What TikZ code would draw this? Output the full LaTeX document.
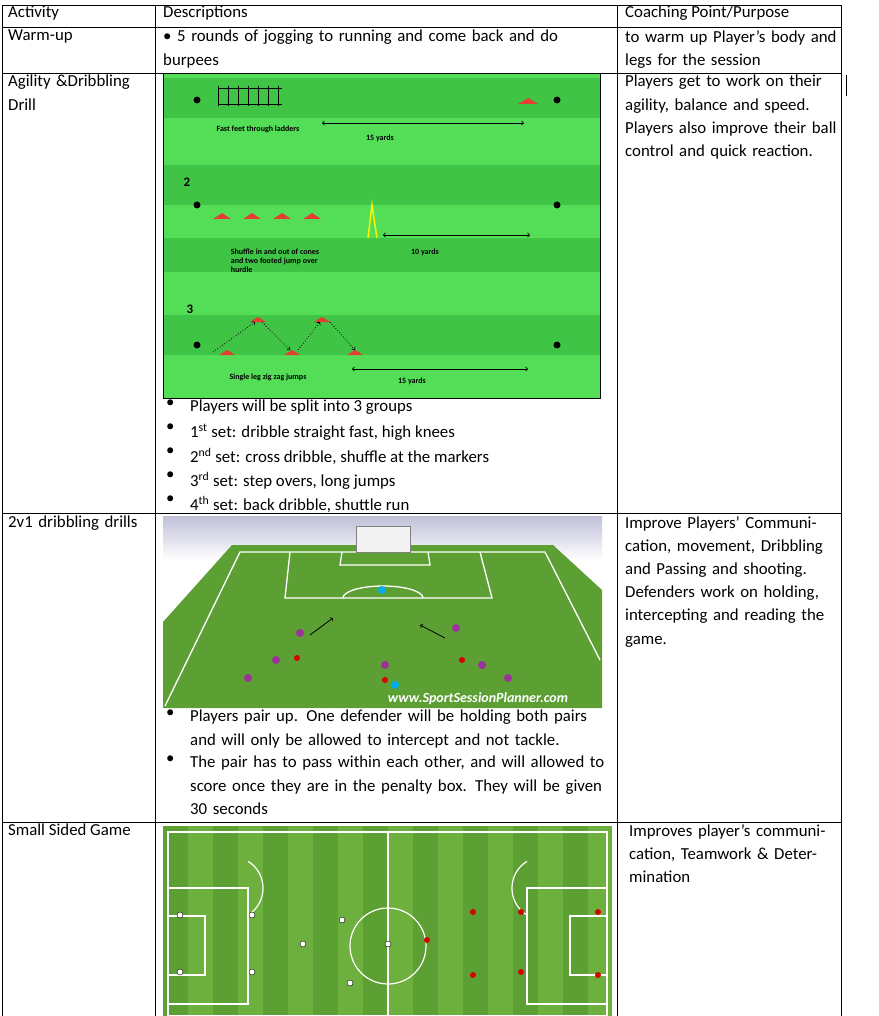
\documentclass[tikz,border=0pt]{standalone}
\usepackage{fontspec}
\setmainfont{Carlito}
\usetikzlibrary{positioning}
\definecolor{drillgreen}{RGB}{84,222,88}
\definecolor{bandgreen}{RGB}{64,196,70}
\definecolor{pitchA}{RGB}{92,160,52}
\definecolor{pitchB}{RGB}{110,176,62}
\definecolor{conered}{RGB}{230,60,50}
\tikzset{
  cell/.style={anchor=north west, inner sep=0pt, align=left, font=\fontsize{16.8}{23.2}\selectfont},
  small/.style={font=\bfseries\fontsize{8}{9}\selectfont, align=left},
  blob/.style={circle, fill=black, inner sep=0pt, minimum size=7pt},
  mate/.style={circle, fill=violet!80, inner sep=0pt, minimum size=8pt},
  foe/.style={circle, fill=red!85!black, inner sep=0pt, minimum size=6pt},
  pale/.style={circle, fill=white, draw=black, inner sep=0pt, minimum size=6pt},
  bul/.style={cell, text width=415pt}
}
\begin{document}
\begin{tikzpicture}[x=1pt,y=-1pt]
\useasboundingbox (0,0) rectangle (878,1016);
\fill[white] (0,0) rectangle (878,1016);
% pictures
\fill[drillgreen] (163,73) rectangle (600,398);
\foreach \y in {78,165,315} \fill[bandgreen] (163,\y) rectangle (600,\y+40);
\fill[bandgreen] (163,238) rectangle (600,272);
\draw[black, line width=0.6pt] (163,73) rectangle (600,398);
\foreach \x in {218,228,...,278} \draw (\x,86) -- (\x,106);
\draw (218,88) -- (282,88) (218,104) -- (282,104);
\foreach \y in {110,215,355} {\node[blob] at (197,\y-10) {}; \node[blob] at (557,\y-10) {};}
\foreach \x in {222,252,282,312} \fill[conered] (\x-9,219) -- (\x,213) -- (\x+9,219) -- cycle;
\fill[conered] (518,104) -- (528,98) -- (538,104) -- cycle;
\draw[yellow, line width=1.5pt] (368,238) -- (372,205) -- (377,238);
\node[small] (ladtxt) at (258,129) {Fast feet through ladders};
\node[small] (yd1) at (380,138) {15 yards};
\coordinate (a1) at (322,123); \coordinate (b1) at (524,123);
\draw[<->, thick] (a1) -- (b1);
\node[font=\bfseries\fontsize{13}{14}\selectfont] (two) at (187,182) {2};
\node[small] (shuftxt) at (275,261) {Shuffle in and out of cones\\and two footed jump over\\hurdle};
\node[small] (yd2) at (425,252) {10 yards};
\coordinate (a2) at (383,235); \coordinate (b2) at (530,235);
\draw[<->, thick] (a2) -- (b2);
\node[font=\bfseries\fontsize{13}{14}\selectfont] (three) at (190,309) {3};
\foreach \x/\y in {227/355,258/322,292/355,322/322,355/355} \fill[conered] (\x-8,\y) -- (\x,\y-5) -- (\x+8,\y) -- cycle;
\draw[dotted, thick, ->] (213,352) -- (255,322);
\draw[dotted, thick, ->] (262,322) -- (290,350);
\draw[dotted, thick, ->] (298,350) -- (320,322);
\draw[dotted, thick, ->] (330,322) -- (355,350);
\node[small] (zigtxt) at (268,377) {Single leg zig zag jumps};
\node[small] (yd3) at (412,381) {15 yards};
\coordinate (a3) at (352,369); \coordinate (b3) at (528,369);
\draw[<->, thick] (a3) -- (b3);
% 2v1 picture
\shade[top color=blue!25!gray!40, bottom color=white] (163,516) rectangle (602,560);
\fill[pitchA] (163,708) -- (163,622) -- (232,545) -- (553,545) -- (602,590) -- (602,708) -- cycle;
\draw[white, line width=1.3pt] (165,706) -- (240,552) -- (545,552) -- (600,660);
\draw[white, line width=1.3pt] (290,552) -- (285,598) -- (492,598) -- (480,552);
\draw[white, line width=1.3pt] (342,552) -- (340,565) -- (430,565) -- (428,552);
\draw[white, line width=1.3pt] (343,598) arc (180:360:40 and 12);
\draw[white, line width=1.3pt] (330,708) arc (180:360:60 and -18);
\draw[gray, fill=white!90!gray] (356,526) rectangle (410,552);
\node[circle, fill=cyan, inner sep=0pt, minimum size=8pt] (keep) at (382,590) {};
\foreach \x/\y in {300/633,456/628,276/660,248/678,385/665,482/665,508/678} \node[mate] at (\x,\y) {};
\foreach \x/\y in {297/658,385/680,462/660} \node[foe] at (\x,\y) {};
\node[circle, fill=cyan, inner sep=0pt, minimum size=8pt] (d2) at (395,685) {};
\coordinate (p1) at (310,635); \coordinate (q1) at (333,618);
\draw[->, thick] (p1) -- (q1);
\coordinate (p2) at (445,638); \coordinate (q2) at (420,625);
\draw[->, thick] (p2) -- (q2);
\node[font=\itshape\bfseries\fontsize{14}{15}\selectfont, white] (ssp) at (478,699) {www.SportSessionPlanner.com};
% small sided picture
\foreach \i in {0,...,8} {
  \pgfmathsetmacro{\xl}{163+\i*50}
  \fill[pitchA] (\xl,826) rectangle (\xl+25,1016);
  \fill[pitchB] (\xl+25,826) rectangle (\xl+50,1016);
}
\fill[white] (612,826) rectangle (616,1016);
\draw[white, line width=1.2pt] (168,832) rectangle (607,1016) (388,832) -- (388,1016);
\draw[white, line width=1.2pt] (388,946) circle (38);
\draw[white, line width=1.2pt] (168,888) rectangle (248,1004) (168,916) rectangle (205,975);
\draw[white, line width=1.2pt] (607,888) rectangle (527,1004) (607,916) rectangle (570,975);
\draw[white, line width=1.2pt] (248,915) arc (60:-60:30 and 31);
\draw[white, line width=1.2pt] (527,915) arc (120:240:30 and 31);
\foreach \x/\y in {252/915,252/972,303/944,342/920,350/983,388/944,180/915,180/972} \node[pale] at (\x,\y) {};
\foreach \x/\y in {427/940,473/912,473/975,521/912,521/972,598/912,598/975} \node[foe] at (\x,\y) {};
% table grid
\draw[black, line width=0.8pt] (2,5) -- (841,5) (2,27) -- (841,27) (2,73) -- (841,73)
  (2,513) -- (841,513) (2,822) -- (841,822);
\draw[black, line width=0.8pt] (2,5) -- (2,1016) (155,5) -- (155,1016) (617,5) -- (617,1016) (841,5) -- (841,1016);
\draw[black] (846,75) -- (846,96);
% texts
\node[cell] (h1) at (8,6) {Activity};
\node[cell] (h2) at (163,6) {Descriptions};
\node[cell] (h3) at (625,6) {Coaching Point/Purpose};
\node[cell] (w1) at (8,30) {Warm-up};
\node[cell, text width=445pt] (w2) at (163,30) {• 5 rounds of jogging to running and come back and do burpees};
\node[cell, text width=212pt] (w3) at (625,30) {to warm up Player’s body and legs for the session};
\node[cell, text width=140pt] (g1) at (8,75) {Agility \&Dribbling Drill};
\node[cell, text width=212pt] (g3) at (625,75) {Players get to work on their agility, balance and speed. Players also improve their ball control and quick reaction.};
\foreach \t [count=\k] in {Players will be split into 3 groups,
  1\textsuperscript{st} set: dribble straight fast{,} high knees,
  2\textsuperscript{nd} set: cross dribble{,} shuffle at the markers,
  3\textsuperscript{rd} set: step overs{,} long jumps,
  4\textsuperscript{th} set: back dribble{,} shuttle run} {
  \node[cell] at (166,400+\k*24-24) {•};
  \node[cell] at (190,400+\k*24-24) {\t};
}
\node[cell, text width=140pt] (v1) at (8,516) {2v1 dribbling drills};
\node[cell, text width=212pt] (v3) at (625,516) {Improve Players’ Communication, movement, Dribbling and Passing and shooting. Defenders work on holding, intercepting and reading the game.};
\node[cell] at (166,710) {•};
\node[bul] (v2a) at (190,710) {Players pair up. One defender will be holding both pairs and will only be allowed to intercept and not tackle.};
\node[cell] at (166,756) {•};
\node[bul] (v2b) at (190,756) {The pair has to pass within each other, and will allowed to score once they are in the penalty box. They will be given 30 seconds};
\node[cell] (s1) at (8,824) {Small Sided Game};
\node[cell, text width=205pt] (s3) at (629,824) {Improves player’s communication, Teamwork \& Determination};
\end{tikzpicture}
\end{document}
